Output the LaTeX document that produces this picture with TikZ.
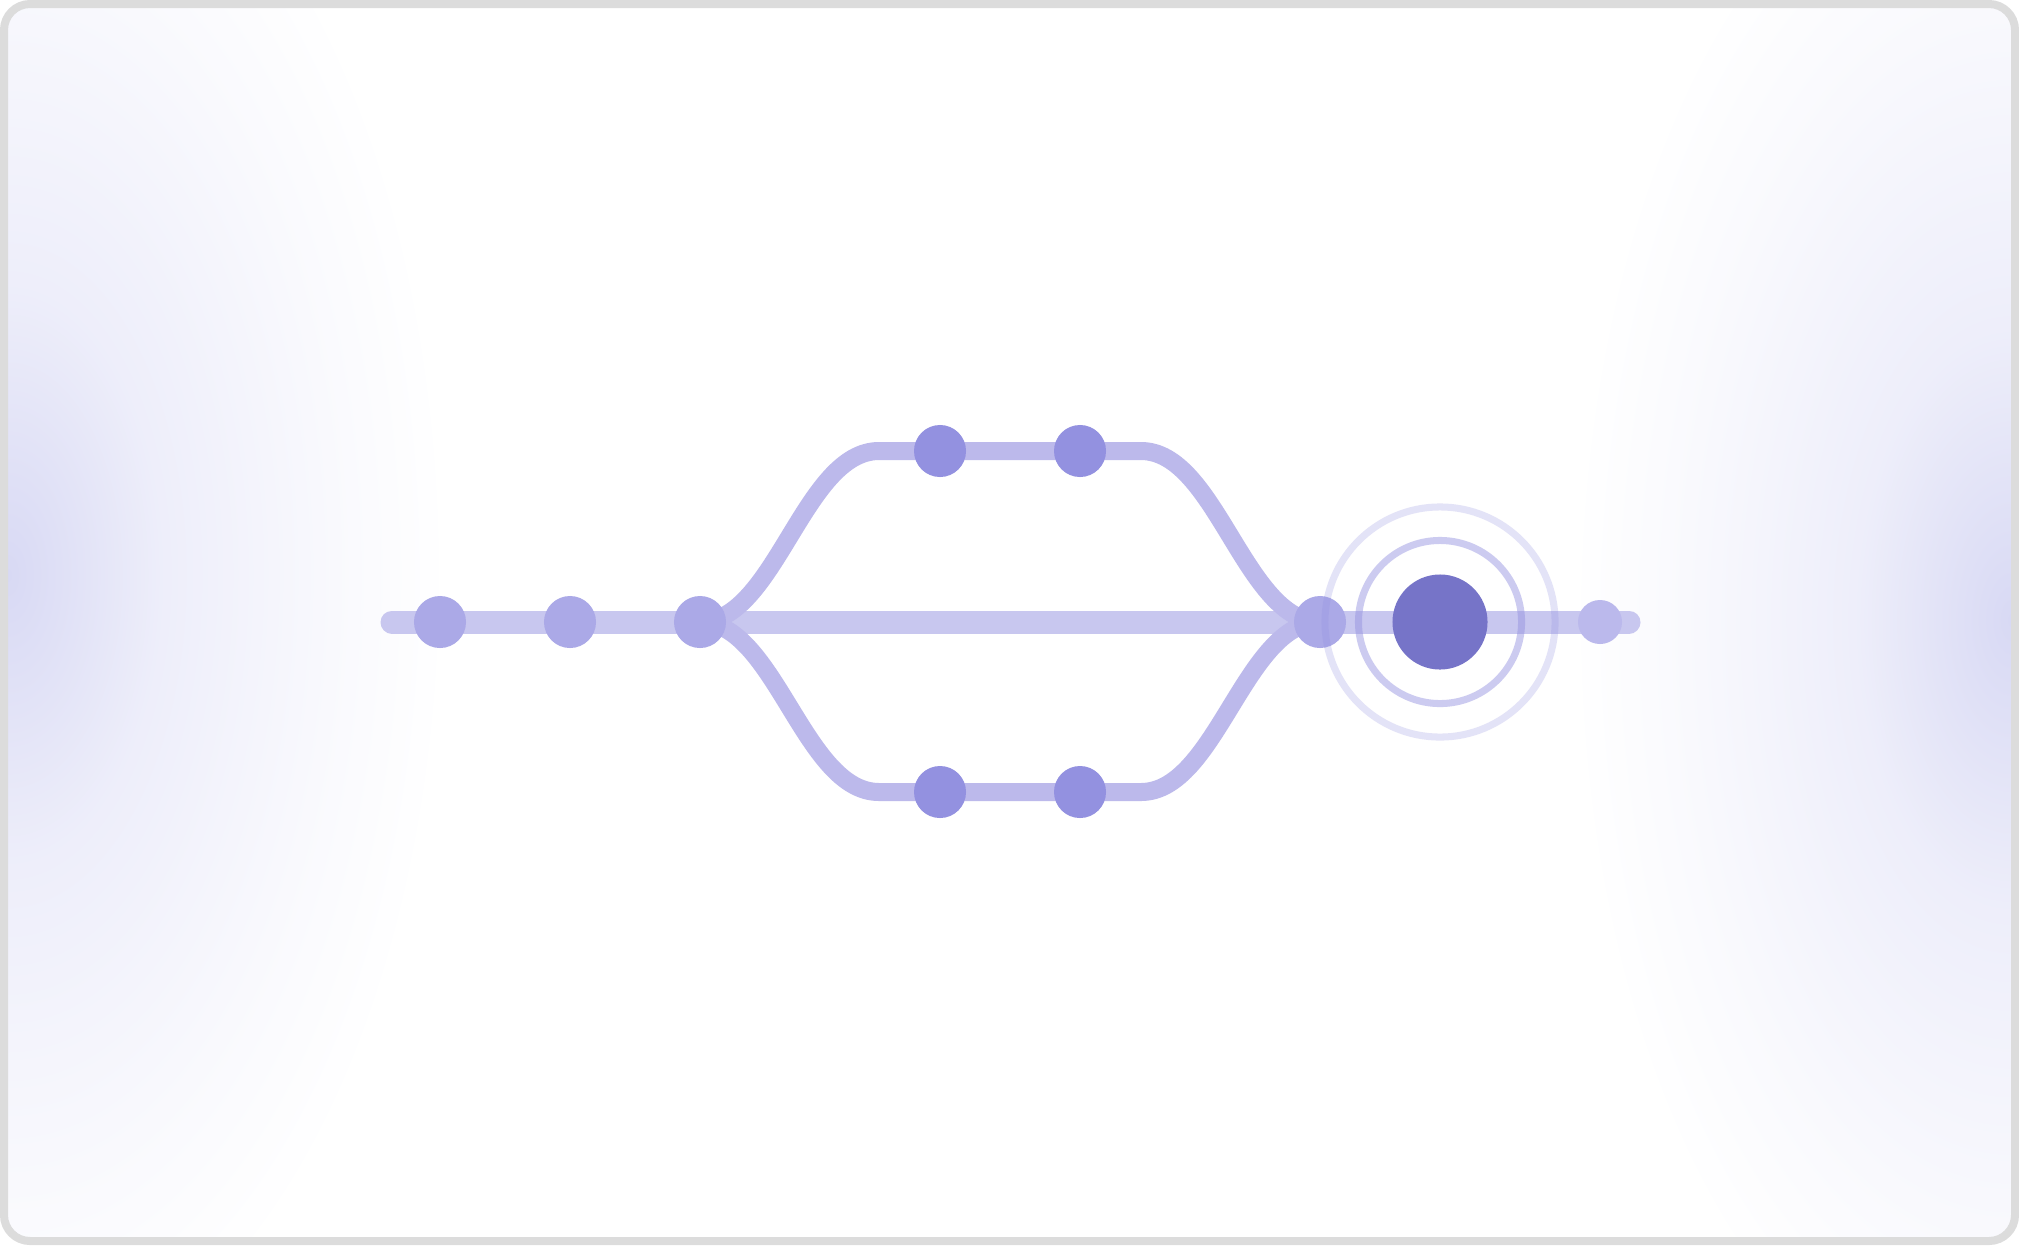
\documentclass[tikz,border=0pt]{standalone}
\usetikzlibrary{backgrounds}
\definecolor{framegray}{HTML}{DCDCDC}
\definecolor{glow}{HTML}{D8D9F4}
\definecolor{trackmain}{HTML}{C8C7EF}
\definecolor{trackside}{HTML}{BCB9EB}
\definecolor{stopmain}{HTML}{ABA9E7}
\definecolor{stopside}{HTML}{9391E0}
\definecolor{stophub}{HTML}{7674C8}
\definecolor{stopend}{HTML}{BBB9EC}
\pgfdeclareradialshading{glowshade}{\pgfpoint{0bp}{0bp}}{color(0bp)=(glow); color(8.75bp)=(glow!45!white); color(18.75bp)=(glow!15!white); color(25bp)=(white); color(50bp)=(white)}

\begin{document}
\begin{tikzpicture}[x=0.01cm, y=-0.01cm,
    track/.style={line width=6.54pt, color=trackmain, line cap=round},
    branch/.style={line width=5.12pt, color=trackside},
    stop/.style={shape=circle, fill=stopmain, inner sep=0pt, minimum size=0.52cm},
    sidestop/.style={stop, fill=stopside},
    ring/.style={shape=circle, draw=stopside, line width=2pt, inner sep=0pt}]
    \useasboundingbox (0,0) rectangle (2019,1245);
    % stations
    \node[stop] (s1) at (440,622) {};
    \node[stop] (s2) at (570,622) {};
    \node[stop] (s3) at (700,622) {};
    \node[sidestop] (u1) at (940,451) {};
    \node[sidestop] (u2) at (1080,451) {};
    \node[sidestop] (d1) at (940,792) {};
    \node[sidestop] (d2) at (1080,792) {};
    \node[stop] (s4) at (1320,622) {};
    \node[stop, fill=stophub, minimum size=0.95cm] (hub) at (1440,622) {};
    \node[stop, fill=stopend, minimum size=0.44cm] (tail) at (1600,622) {};
    \node[ring, draw opacity=0.47, minimum size=1.63cm] (pulse1) at (hub) {};
    \node[ring, draw opacity=0.25, minimum size=2.30cm] (pulse2) at (hub) {};
    \coordinate (west) at (392,622);
    \coordinate (east) at (1629,622);
    \coordinate (uin) at (879,451);
    \coordinate (uout) at (1141,451);
    \coordinate (din) at (879,792);
    \coordinate (dout) at (1141,792);
    % card and glow
    \begin{scope}[on background layer]
        \fill[white] (0,0) rectangle (2019,1245);
        \begin{scope}
            \clip[rounded corners=0.26cm] (4,4) rectangle (2015,1241);
            \shade[shading=glowshade] (8,575) ellipse (440 and 820);
            \shade[shading=glowshade] (2011,620) ellipse (440 and 820);
        \end{scope}
        \draw[framegray, line width=2.28pt, rounded corners=0.26cm] (4,4) rectangle (2015,1241);
    \end{scope}
    % tracks
    \begin{scope}[on background layer]
        \draw[track] (west) -- (s1.center) -- (s2.center) -- (s3.center) -- (s4.center) -- (hub.center) -- (tail.center) -- (east);
        \draw[branch] (s3.center) .. controls +(75,0) and +(-75,0) .. (uin) -- (uout) .. controls +(75,0) and +(-75,0) .. (s4.center);
        \draw[branch] (s3.center) .. controls +(75,0) and +(-75,0) .. (din) -- (dout) .. controls +(75,0) and +(-75,0) .. (s4.center);
    \end{scope}
\end{tikzpicture}
\end{document}
